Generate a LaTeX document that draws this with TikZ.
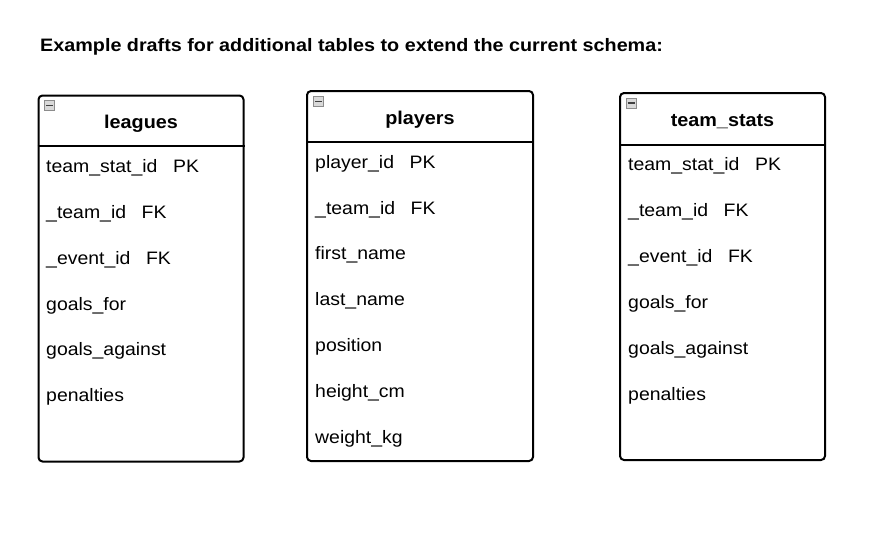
\documentclass[tikz,border=0pt]{standalone}
\usepackage{fontspec}
\setmainfont{Liberation Sans}
\begin{document}
\begin{tikzpicture}[x=1pt,y=-1pt,
  tablebox/.style={draw=black, line width=2pt, rounded corners=4pt, fill=white, inner sep=0pt},
  sepline/.style={draw=black, line width=2pt},
  field/.style={anchor=base west, inner sep=0pt, font=\fontsize{18}{21}\selectfont},
  head/.style={anchor=base, inner sep=0pt, font=\fontsize{18.5}{22}\selectfont\bfseries},
  icon/.style={draw=black!45, fill=black!15, line width=0.6pt, minimum size=10pt, inner sep=0pt},
  title/.style={anchor=base west, inner sep=0pt, font=\fontsize{18}{21}\selectfont\bfseries}
]
\useasboundingbox[fill=white] (0,0) rectangle (888,536);
\newcommand{\pk}{\hspace{0.8em}}
\newcommand{\fx}[1]{\scalebox{1.08}[1]{#1}}
\newcommand{\hx}[1]{\scalebox{1.07}[1]{#1}}

\node[title] (ttl) at (40,51) {\scalebox{1.098}[1]{Example drafts for additional tables to extend the current schema:}};

% ---------- leagues ----------
\node[tablebox, minimum width=205, minimum height=366] (L) at (141,278.5) {};
\draw[sepline] (L.west |- 0,146) -- (L.east |- 0,146);
\node[icon] (Li) at (49.5,105.5) {};
\draw[line width=1.4pt, black!75] (Li.west) ++(1.8,0) -- ([xshift=-1.8pt]Li.east);
\node[head] (Lh) at (141,128) {\hx{leagues}};
\node[field] (L1) at (46,172) {\fx{team\_stat\_id\pk PK}};
\node[field] (L2) at (46,218) {\fx{\_team\_id\pk FK}};
\node[field] (L3) at (46,264) {\fx{\_event\_id\pk FK}};
\node[field] (L4) at (46,310) {\fx{goals\_for}};
\node[field] (L5) at (46,355) {\fx{goals\_against}};
\node[field] (L6) at (46,401) {\fx{penalties}};

% ---------- players ----------
\node[tablebox, minimum width=226, minimum height=370] (P) at (420,276) {};
\draw[sepline] (P.west |- 0,142) -- (P.east |- 0,142);
\node[icon] (Pi) at (318.5,101.5) {};
\draw[line width=1.4pt, black!75] (Pi.west) ++(1.8,0) -- ([xshift=-1.8pt]Pi.east);
\node[head] (Ph) at (420,124) {\hx{players}};
\node[field] (P1) at (315,168) {\fx{player\_id\pk PK}};
\node[field] (P2) at (315,214) {\fx{\_team\_id\pk FK}};
\node[field] (P3) at (315,259) {\fx{first\_name}};
\node[field] (P4) at (315,305) {\fx{last\_name}};
\node[field] (P5) at (315,351) {\fx{position}};
\node[field] (P6) at (315,397) {\fx{height\_cm}};
\node[field] (P7) at (315,443) {\fx{weight\_kg}};

% ---------- team_stats ----------
\node[tablebox, minimum width=205, minimum height=367] (T) at (722.5,276.5) {};
\draw[sepline] (T.west |- 0,144.5) -- (T.east |- 0,144.5);
\node[icon] (Ti) at (631,103) {};
\draw[line width=1.4pt, black!75] (Ti.west) ++(1.8,0) -- ([xshift=-1.8pt]Ti.east);
\node[head] (Th) at (722.5,126) {\hx{team\_stats}};
\node[field] (T1) at (628,170) {\fx{team\_stat\_id\pk PK}};
\node[field] (T2) at (628,216) {\fx{\_team\_id\pk FK}};
\node[field] (T3) at (628,262) {\fx{\_event\_id\pk FK}};
\node[field] (T4) at (628,308) {\fx{goals\_for}};
\node[field] (T5) at (628,354) {\fx{goals\_against}};
\node[field] (T6) at (628,400) {\fx{penalties}};
\end{tikzpicture}
\end{document}
